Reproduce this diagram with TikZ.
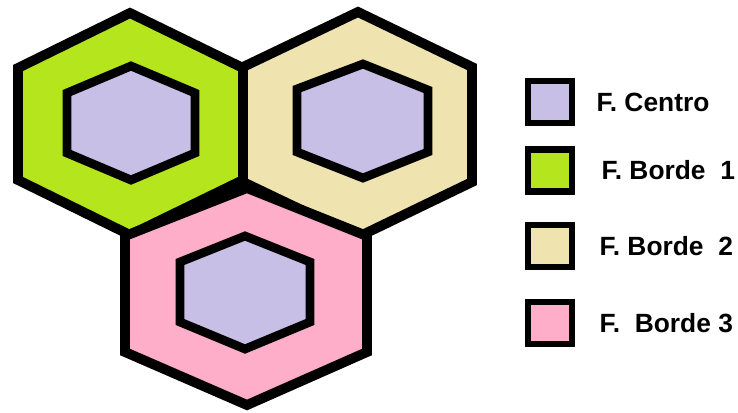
\documentclass[tikz,border=0pt]{standalone}
\usepackage{fontspec}
\setmainfont{Liberation Sans}
\usepackage{xcolor}
\usetikzlibrary{positioning}
\definecolor{centro}{HTML}{C8BFE7}
\definecolor{borde1}{HTML}{B5E61D}
\definecolor{borde2}{HTML}{EFE4B0}
\definecolor{borde3}{HTML}{FFAEC9}
\tikzset{
  outerhex/.style={draw=black,line width=5.6pt},
  innerhex/.style={draw=black,fill=centro,line width=5pt},
  keybox/.style={rectangle,draw=black,line width=3.8pt,
    minimum width=0.88cm,minimum height=0.84cm,inner sep=0pt},
  keytext/.style={font=\bfseries\fontsize{15}{18}\selectfont,inner sep=0pt}
}

\begin{document}
\begin{tikzpicture}[x=0.02cm,y=-0.02cm]
  \useasboundingbox (0,0) rectangle (738,413);

  % outer cells
  \filldraw[outerhex,fill=borde1] (130,13) -- (243,68) -- (243,180)
    -- (130,235) -- (18,180) -- (18,68) -- cycle;
  \filldraw[outerhex,fill=borde2] (358,12) -- (472,67) -- (472,182)
    -- (358,237) -- (243,182) -- (243,67) -- cycle;
  \filldraw[outerhex,fill=borde3] (247,188) -- (367,236) -- (367,352)
    -- (247,405) -- (125,352) -- (125,236) -- cycle;

  % centre cells
  \filldraw[innerhex] (131,66) -- (195,93) -- (195,153)
    -- (131,180) -- (67,153) -- (67,93) -- cycle;
  \filldraw[innerhex] (363,64) -- (428,90) -- (428,152)
    -- (363,178) -- (297,152) -- (297,89) -- cycle;
  \filldraw[innerhex] (245,236) -- (310,262) -- (310,322)
    -- (245,349) -- (180,322) -- (180,262) -- cycle;

  % legend
  \node[keybox,fill=centro] (kc) at (550,102) {};
  \node[keybox,fill=borde1] (kb1) at (550,170.5) {};
  \node[keybox,fill=borde2] (kb2) at (550,246) {};
  \node[keybox,fill=borde3] (kb3) at (550,323) {};
  \node[keytext,right=0.42cm of kc] (tc) {F. Centro};
  \node[keytext,right=0.52cm of kb1] (tb1) {F. Borde~~1};
  \node[keytext,right=0.48cm of kb2] (tb2) {F. Borde~~2};
  \node[keytext,right=0.48cm of kb3] (tb3) {F.~~Borde 3};
\end{tikzpicture}
\end{document}
